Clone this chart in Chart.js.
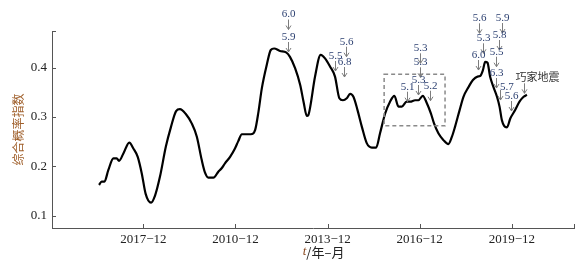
<!DOCTYPE html>
<html><head><meta charset="utf-8">
<script src="https://cdn.jsdelivr.net/npm/chart.js@4/dist/chart.umd.min.js"></script>
<style>html,body{margin:0;padding:0;background:#fff}#wrap{width:584px;height:262px}</style>
</head><body><div id="wrap"><canvas id="c" width="584" height="262"></canvas></div>
<script>
// months relative to 2007-12 (0), values = composite probability index
const months = [-17.3,-16.3,-15.2,-13.7,-11.7,-10.4,-9.5,-7.8,-5.5,-3.9,-2.2,-0.6,0.9,3.0,4.6,6.5,8.8,10.8,12.8,14.3,16.6,18.9,20.9,22.8,24.1,25.4,27.4,29.3,30.6,31.9,33.9,35.8,37.1,38.5,40.4,42.0,43.7,45.0,46.3,48.2,49.8,51.1,53.4,55.8,57.3,59.3,61.3,62.6,63.9,64.5,65.2,67.1,69.3,71.0,73.0,74.9,76.6,78.0,79.5,80.8,82.1,83.7,85.4,87.3,89.3,91.0,92.5,94.5,96.4,98.1,99.7,101.0,102.9,104.3,106.2,107.5,109.2,110.8,112.4,113.6,115.3,117.3,119.2,120.6,121.8,123.6,125.1,127.1,128.8,130.6,131.6,132.7,133.6,134.5,135.5,136.8,138.2,139.2,140.1,141.0,142.1,143.4,145.3,147.0,148.6,149.9];
const indexValues = [0.162,0.169,0.169,0.192,0.216,0.216,0.211,0.226,0.248,0.236,0.219,0.185,0.144,0.126,0.141,0.179,0.240,0.280,0.312,0.316,0.306,0.287,0.260,0.213,0.187,0.177,0.177,0.189,0.196,0.206,0.219,0.236,0.251,0.265,0.265,0.265,0.274,0.311,0.358,0.405,0.436,0.439,0.434,0.431,0.422,0.399,0.365,0.331,0.302,0.304,0.320,0.382,0.426,0.419,0.402,0.382,0.338,0.334,0.338,0.347,0.341,0.314,0.280,0.247,0.238,0.238,0.267,0.307,0.331,0.343,0.321,0.321,0.331,0.331,0.334,0.334,0.343,0.328,0.307,0.287,0.267,0.253,0.245,0.260,0.280,0.314,0.341,0.361,0.375,0.382,0.383,0.395,0.412,0.410,0.382,0.361,0.341,0.321,0.294,0.282,0.279,0.297,0.314,0.331,0.341,0.345];
const tickMonths = [0,36,72,108,144];
const tickLabels = ['2017\u221212','2010\u221212','2013\u221212','2016\u221212','2019\u221212'];
const yTicks = [0.1,0.2,0.3,0.4];
// earthquake annotations: month, arrow-tip value, text
const annMonths = [56.4,56.4,74.9,79.2,78.4,108.1,108.1,107.5,103.2,112.0,131.3,132.9,130.9,140.0,139.1,137.8,137.8,139.4,143.6,148.8];
const annValues = [0.4319,0.4775,0.3933,0.4223,0.3811,0.4089,0.3805,0.3446,0.3310,0.3330,0.4698,0.4292,0.3953,0.4704,0.4359,0.4020,0.3588,0.3344,0.3121,0.3480];
const annTexts = ['5.9','6.0','5.5','5.6','6.8','5.3','5.3','5.3','5.1','5.2','5.6','5.3','6.0','5.9','5.8','5.5','6.3','5.7','5.6','巧家地震'];
const boxMonths = [94.1,117.9];
const boxValues = [0.2823,0.3866];

const leftLabels = {'5.7':1,'巧家地震':1};

const deco = {
  id:'deco',
  afterDraw(chart){
    const ctx = chart.ctx, xs = chart.scales.x, ys = chart.scales.y, a = chart.chartArea;
    ctx.save();
    // tick marks (inward)
    ctx.strokeStyle = '#555'; ctx.lineWidth = 1;
    ctx.beginPath();
    tickMonths.concat([xs.max]).forEach(m=>{ const x = Math.round(xs.getPixelForValue(m))+0.5; ctx.moveTo(x,a.bottom); ctx.lineTo(x,a.bottom-4); });
    yTicks.concat([ys.max]).forEach(v=>{ const y = Math.round(ys.getPixelForValue(v))+0.5; ctx.moveTo(a.left,y); ctx.lineTo(a.left+4,y); });
    ctx.stroke();
    // dashed box
    ctx.strokeStyle = '#8a8a8a'; ctx.lineWidth = 1.5; ctx.setLineDash([4,3]);
    const bx0 = xs.getPixelForValue(boxMonths[0]), bx1 = xs.getPixelForValue(boxMonths[1]);
    const by0 = ys.getPixelForValue(boxValues[1]), by1 = ys.getPixelForValue(boxValues[0]);
    ctx.strokeRect(bx0, by0, bx1-bx0, by1-by0);
    ctx.setLineDash([]);
    // annotations
    annMonths.forEach((m,i)=>{
      const x = Math.round(xs.getPixelForValue(m))+0.5, tip = ys.getPixelForValue(annValues[i]);
      ctx.strokeStyle = '#7d7d7d'; ctx.lineWidth = 1;
      ctx.beginPath();
      ctx.moveTo(x, tip-10); ctx.lineTo(x, tip);
      ctx.moveTo(x-2.5, tip-4); ctx.lineTo(x, tip); ctx.lineTo(x+2.5, tip-4);
      ctx.stroke();
      const t = annTexts[i];
      ctx.textBaseline = 'middle';
      if (t.length > 3) {
        ctx.font = '11px "Noto Sans CJK SC"'; ctx.fillStyle = '#333';
        ctx.textAlign = 'left'; ctx.fillText(t, x-9, tip-17);
      } else {
        ctx.font = '11px "Liberation Serif"'; ctx.fillStyle = '#2b3f70';
        if (leftLabels[t] && i===17) { ctx.textAlign='left'; ctx.fillText(t, x-0.5, tip-13); }
        else { ctx.textAlign='center'; ctx.fillText(t, x, tip-15); }
      }
    });
    // axis titles
    ctx.save();
    ctx.translate(18, (a.top+a.bottom)/2);
    ctx.rotate(-Math.PI/2);
    ctx.font = '12px "Noto Sans CJK SC"'; ctx.fillStyle = '#a0602c';
    ctx.textAlign = 'center'; ctx.textBaseline = 'middle';
    ctx.fillText('综合概率指数', 0, 0);
    ctx.restore();
    const tx = xs.getPixelForValue(72) - 4, ty = 252;
    ctx.textBaseline = 'middle'; ctx.textAlign = 'left';
    ctx.font = 'italic 13px "Liberation Serif"';
    const w1 = ctx.measureText('t').width;
    ctx.font = '13px "Noto Sans CJK SC"';
    const rest = '/年–月';
    const w2 = ctx.measureText(rest).width;
    const sx = tx - (w1+w2)/2;
    ctx.font = 'italic 13px "Liberation Serif"'; ctx.fillStyle = '#8a4a20';
    ctx.fillText('t', sx, ty);
    ctx.font = '13px "Noto Sans CJK SC"'; ctx.fillStyle = '#222';
    ctx.fillText(rest, sx+w1, ty);
    ctx.restore();
  }
};

new Chart(document.getElementById('c'), {
  type: 'line',
  data: { datasets: [{
    data: months.map((m,i)=>({x:m, y:indexValues[i]})),
    borderColor: '#000', borderWidth: 2.2, pointRadius: 0,
    cubicInterpolationMode: 'monotone', fill: false
  }]},
  options: {
    responsive: false, animation: false, devicePixelRatio: 1,
    layout: { padding: { top: 31, right: 10, left: 0, bottom: 0 } },
    plugins: { legend: { display: false }, tooltip: { enabled: false } },
    scales: {
      x: {
        type: 'linear', min: -35.7, max: 168.3,
        grid: { display: false, drawTicks: false },
        border: { display: true, color: '#555', width: 1 },
        afterBuildTicks: s => { s.ticks = tickMonths.map(v=>({value:v})); },
        afterFit: s => { s.height = 34; },
        ticks: { padding: 4, maxRotation: 0, autoSkip: false, color: '#222',
          font: { family: '"Liberation Serif"', size: 13 },
          callback: v => tickLabels[tickMonths.indexOf(v)] }
      },
      y: {
        min: 0.0747, max: 0.4745,
        grid: { display: false, drawTicks: false },
        border: { display: true, color: '#555', width: 1 },
        afterBuildTicks: s => { s.ticks = yTicks.map(v=>({value:v})); },
        afterFit: s => { s.width = 52; },
        ticks: { padding: 5, color: '#222',
          font: { family: '"Liberation Serif"', size: 13 },
          callback: v => v.toFixed(1) }
      }
    }
  },
  plugins: [deco]
});
</script></body></html>
